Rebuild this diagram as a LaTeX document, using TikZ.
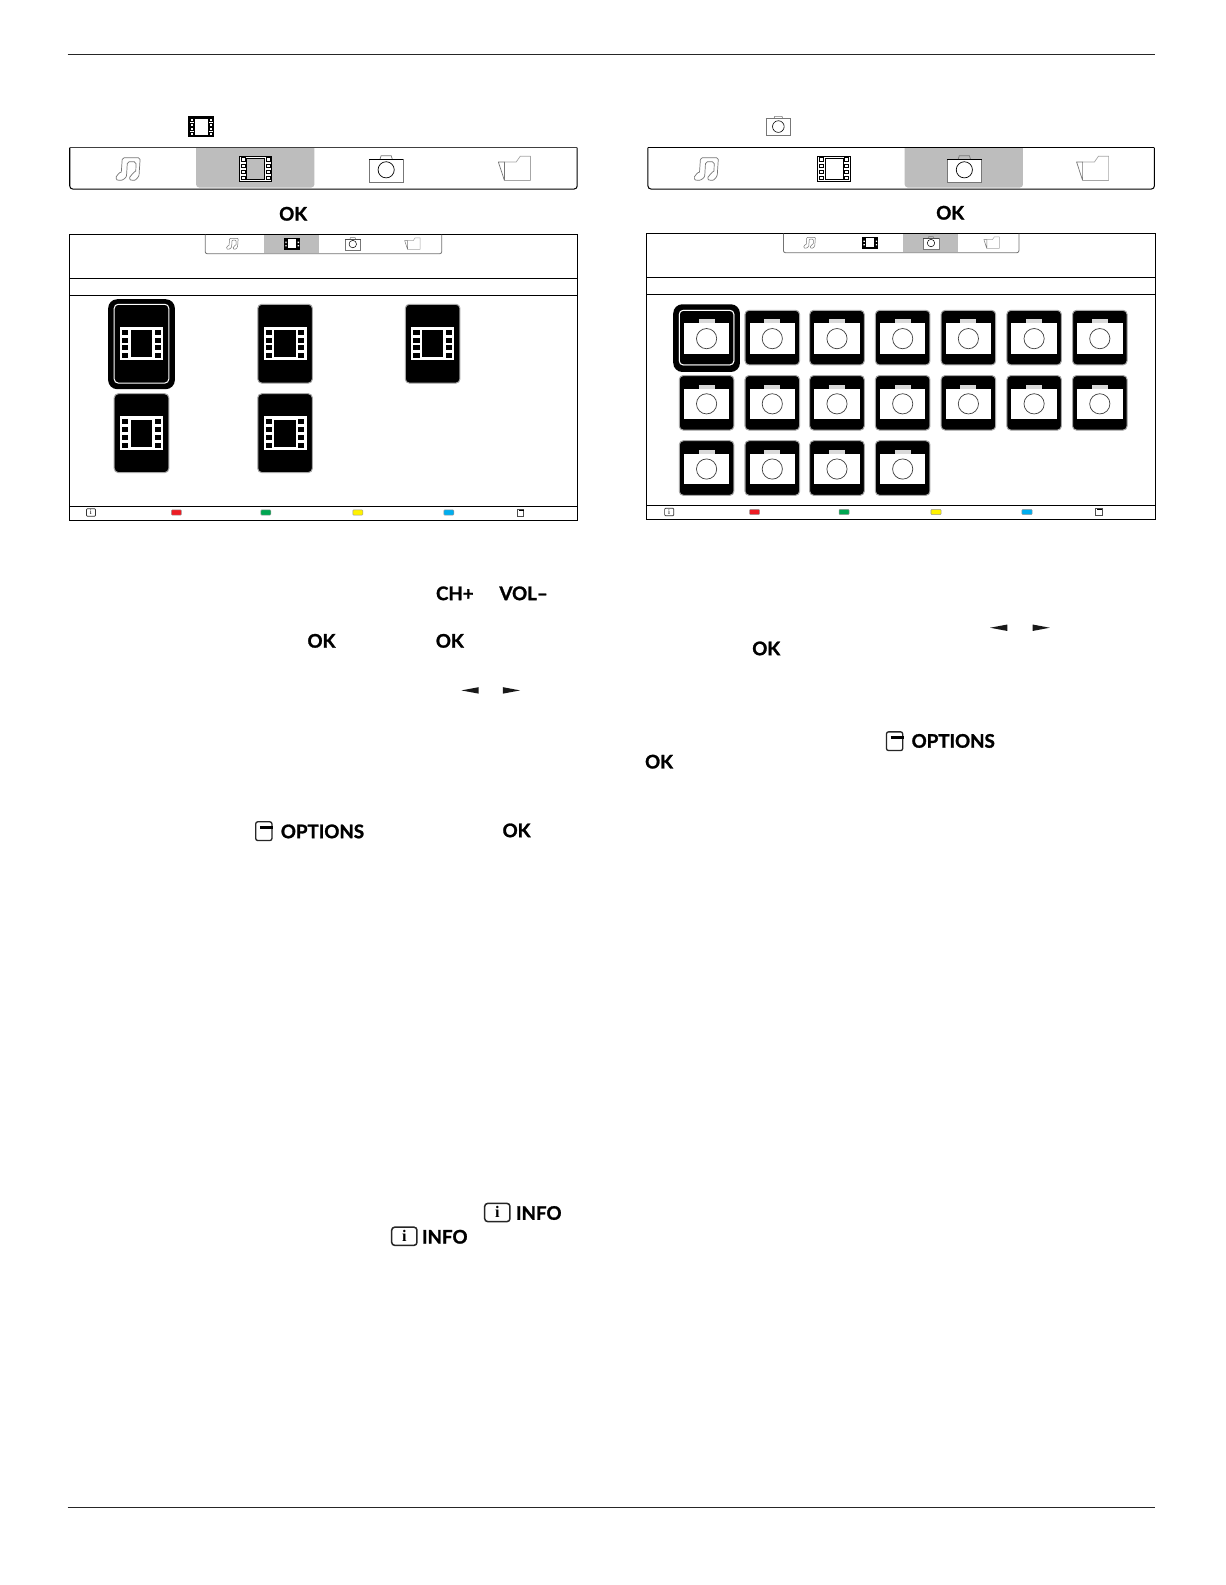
\documentclass[tikz,border=0pt]{standalone}
\usepackage{fontspec}
\setmainfont{Lato}[BoldFeatures={FakeBold=1.4}]
\newfontfamily\iserif{Liberation Serif}
\definecolor{hl}{HTML}{BDBDBD}
\definecolor{btnred}{HTML}{ED1C24}
\definecolor{btngreen}{HTML}{00A651}
\definecolor{btnyellow}{HTML}{FFF200}
\definecolor{btnblue}{HTML}{00AEEF}
\definecolor{iconline}{HTML}{777777}
\tikzset{
  key/.style={font=\fontsize{18.5}{18.5}\selectfont\bfseries,inner sep=0pt,text=black},
  rule/.style={draw=black!85,line width=.9pt},
  frameline/.style={draw=black,line width=1pt},
  film tile/.style={draw=black!35,fill=black,line width=1pt,rounded corners=4pt,minimum width=54pt,minimum height=78pt,inner sep=0pt},
  cam tile/.style={draw=black!35,fill=black,line width=1pt,rounded corners=4pt,minimum width=54pt,minimum height=54pt,inner sep=0pt},
  btn/.style={line width=.5pt,draw=black!40,rounded corners=.8pt}
}
% note icon: centre, scale, colour
\newcommand\noteicon[4][.7pt]{\begin{scope}[shift={(#2)},x=#3pt,y=-#3pt,line width=#1,draw=#4,line join=round]
 \draw[rounded corners=#3*1.8pt] (-7,3.3) -- (-6,-11) -- (11.7,-11) -- (10.7,4) .. controls (10.5,8) and (7,11.5) .. (4,11.3) .. controls (1.5,11) and (.8,9) .. (2.5,7) .. controls (4,5) and (6,3.5) .. (7.3,4) -- (7.6,-7) -- (-1,-7) -- (-1.7,5) .. controls (-2,9) and (-6,11.5) .. (-9.3,11.3) .. controls (-12,11) and (-12.5,8.5) .. (-11,6.5) .. controls (-9.5,4.5) and (-8,3) .. (-7,3.3);
\end{scope}}
% outline film icon: centre, scale, window fill, line width
\newcommand\filmicon[4]{\begin{scope}[shift={(#1)},x=#2pt,y=-#2pt]
 \draw[fill=white,line width=#4] (-16,-12.5) rectangle (16,12.5);
 \draw[fill=#3,line width=.7pt] (-9,-10.5) rectangle (9,10.5);
 \foreach \sx in {-12.5,12.5}\foreach \sy in {-9,-3,3,9}
  \draw[fill=white,line width=.7pt] (\sx-1.9,\sy-1.9) rectangle (\sx+1.9,\sy+1.9);
\end{scope}}
% outline camera icon
\newcommand\camicon[4][.7pt]{\begin{scope}[shift={(#2)},x=#3pt,y=-#3pt,line width=#1]
 \fill[white] (-17,-9.7) rectangle (17,13.5);
 \draw[draw=iconline] (-17,-9.7) -- (-17,13.5) -- (17,13.5) -- (17,-9.7);
 \draw[draw=#4] (-17,-9.7) -- (17,-9.7);
 \draw[draw=iconline] (-6,-9.7) -- (-5,-13) -- (5,-13) -- (6,-9.7);
 \draw[draw=black] (0,1) ellipse [x radius=8,y radius=8];
\end{scope}}
% folder icon
\newcommand\foldericon[3][.7pt]{\begin{scope}[shift={(#2)},x=#3pt,y=-#3pt,line width=#1,draw=iconline,line join=round]
 \draw[black!35] (-10,-6.3) -- (1.7,-6.3) -- (5.7,-12) -- (15.7,-12) -- (15.7,12) -- (-10,12);
 \draw (-10,12) -- (-16,-6.3) -- (-10,-6.3) -- (-10,12);
\end{scope}}
% small solid film icon
\newcommand\minifilm[1]{\begin{scope}[shift={(#1)}]
 \fill[black] (-8,-6) rectangle (8,6);
 \fill[white] (-4,-4.8) rectangle (4,4.8);
 \fill[white] (-6.8,-2) rectangle (-5.4,-.6) (5.4,-2) rectangle (6.8,-.6) (-6.8,1.4) rectangle (-5.4,2.8) (5.4,1.4) rectangle (6.8,2.8);
\end{scope}}
% white film glyph on tile
\newcommand\tilefilm[1]{\begin{scope}[shift={(#1)}]
 \fill[white] (-21.3,-16.5) rectangle (21.3,16.5);
 \fill[black] (-10.5,-13.5) rectangle (10.5,13.5);
 \foreach \sx in {-16,16}\foreach \sy in {-11.1,-3.5,4.2,12}
  \fill[black] (\sx-3,\sy-2.5) rectangle (\sx+3,\sy+2.5);
\end{scope}}
% white camera glyph on tile
\newcommand\tilecam[1]{\begin{scope}[shift={(#1)}]
 \fill[white] (-22.5,-14) rectangle (22.5,16);
 \fill[white!85!black] (-8,-18) rectangle (8,-14);
 \draw[black!75,line width=.7pt] (0,1) circle (10pt);
\end{scope}}
% options icon
\newcommand\optionsicon[2]{\begin{scope}[shift={(#1)},x=#2pt,y=-#2pt]
 \draw[black!85,line width=1.3pt,rounded corners=2pt] (-8,-9) rectangle (8,9.5);
 \draw[black,line width=3pt] (-4,-3.5) -- (9,-3.5);
\end{scope}}
% status bar with coloured keys: y, then six x
\newcommand\statusbar[7]{\begin{scope}[yshift=-#1pt]
 \draw[black!80,line width=.7pt,rounded corners=1pt] (#2-4.5,-3.8) rectangle (#2+4.5,3.8);
 \node[inner sep=0pt,font=\iserif\fontsize{7}{7}\selectfont] at (#2,0) {i};
 \filldraw[btn,fill=btnred] (#3-5,-2.5) rectangle (#3+5,2.5);
 \filldraw[btn,fill=btngreen] (#4-5,-2.5) rectangle (#4+5,2.5);
 \filldraw[btn,fill=btnyellow] (#5-5,-2.5) rectangle (#5+5,2.5);
 \filldraw[btn,fill=btnblue] (#6-5,-2.5) rectangle (#6+5,2.5);
 \begin{scope}[shift={(#7,0)}]
  \draw[black!70,line width=.6pt] (-3,-3.5) rectangle (3,3.5);
  \draw[black,line width=1pt] (-1.5,-2) -- (3.6,-2);
 \end{scope}
\end{scope}}
\newcommand\lefttri[1]{\fill[black!90,shift={(#1)}] (-8.5,0) -- (8.5,-3.2) -- (8.5,3.2) -- cycle;}
\newcommand\righttri[1]{\fill[black!90,shift={(#1)}] (8.5,0) -- (-8.5,-3.2) -- (-8.5,3.2) -- cycle;}
\newcommand\infoicon[1]{\begin{scope}[shift={(#1)}]
 \draw[black!85,line width=1.5pt,rounded corners=3pt] (-12.5,-9) rectangle (12.5,9);
 \node[inner sep=0pt,font=\iserif\bfseries\fontsize{16}{16}\selectfont] at (0,-.5) {i};
\end{scope}}
\begin{document}
\begin{tikzpicture}[x=1pt,y=-1pt]
\useasboundingbox[fill=white] (0,0) rectangle (1212,1568);
% page rules
\draw[rule] (67,54) -- (1143,54);
\draw[rule] (67,1491) -- (1143,1491);
% inline icons
\filmicon{199,125.5}{.76}{white}{1.6pt}
\camicon[.6pt]{770,124.5}{.72}{iconline}
% ---- left top bar
\fill[hl,rounded corners=3pt] (194,146.5) -- (194,185.5) -- (311,185.5) -- (311,146.5);
\draw[frameline,rounded corners=3pt] (69,146) -- (69,187) -- (571,187) -- (571,146);
\draw[black!75,line width=1.2pt] (69,146) -- (571,146);
\noteicon{127,167}{1}{iconline}
\filmicon{253,167}{1}{hl}{1pt}
\camicon{382,167}{1}{black}
\foldericon{509,166.5}{1}
\node[key] (okA) at (290,211.5) {OK};
% ---- left screen
\draw[frameline] (69,232) rectangle (571,515);
\draw[frameline] (69,276) -- (571,276);
\draw[frameline] (69,292) -- (571,292);
\draw[frameline] (69,501) -- (571,501);
\fill[hl] (261,232.5) rectangle (316,250.5);
\draw[black!55,line width=.8pt,rounded corners=2pt] (203,232) -- (203,251) -- (437,251) -- (437,232);
\noteicon[.5pt]{230,241}{.48}{iconline}
\minifilm{289,241}
\camicon[.5pt]{349,241}{.46}{black!70}
\foldericon[.5pt]{408,241}{.48}
% film tiles
\fill[black,rounded corners=9pt] (107,296) rectangle (173,385);
\node[film tile,draw=white] (fa) at (140,340) {};
\node[film tile] (fb) at (282,340) {};
\node[film tile] (fc) at (428,340) {};
\node[film tile] (fd) at (140,428.5) {};
\node[film tile] (fe) at (282,428.5) {};
\foreach \px/\py in {140/340,282/340,428/340,140/428.5,282/428.5}{\tilefilm{\px,\py}}
\statusbar{507}{90}{174.5}{263}{354}{444}{515}
% ---- right top bar
\fill[hl,rounded corners=3pt] (895,146.5) -- (895,185.5) -- (1012,185.5) -- (1012,146.5);
\draw[frameline,rounded corners=3pt] (641,146) -- (641,187) -- (1142,187) -- (1142,146);
\draw[frameline] (641,146) -- (1142,146);
\noteicon{699,167}{1}{iconline}
\filmicon{825,167}{1}{white}{1pt}
\camicon{954,167}{1}{black}
\foldericon{1081,166.5}{1}
\node[key] (okB) at (940,210.5) {OK};
% ---- right screen
\draw[frameline] (640,231) rectangle (1143,514);
\draw[frameline] (640,275) -- (1143,275);
\draw[frameline] (640,291) -- (1143,291);
\draw[frameline] (640,500) -- (1143,500);
\fill[hl] (893,231.5) rectangle (948,249.5);
\draw[black!55,line width=.8pt,rounded corners=2pt] (775,231) -- (775,250) -- (1008,250) -- (1008,231);
\noteicon[.5pt]{801,240}{.48}{iconline}
\minifilm{861,240}
\camicon[.5pt]{921,240}{.46}{black!70}
\foldericon[.5pt]{981,240}{.48}
% camera tiles
\fill[black,rounded corners=9pt] (666,301) rectangle (732,368);
\foreach \c/\x in {a/699,b/764,c/828,d/893,e/958,f/1023,g/1088}{
  \node[cam tile] (c1\c) at (\x,334) {};
  \node[cam tile] (c2\c) at (\x,398.5) {};
}
\foreach \c/\x in {a/699,b/764,c/828,d/893}{
  \node[cam tile] (c3\c) at (\x,463) {};
}
\node[cam tile,draw=white] (c1a) at (699,334) {};
\foreach \x in {699,764,828,893,958,1023,1088}{\tilecam{\x,334}\tilecam{\x,398.5}}
\foreach \x in {699,764,828,893}{\tilecam{\x,463}}
\statusbar{506.5}{662}{746.5}{835}{926}{1016}{1087}
% ---- left text keys
\node[key] (ch) at (450,587) {CH+};
\node[key] (vol) at (518,587) {VOL–};
\node[key] (okC) at (318,634) {OK};
\node[key] (okD) at (445,634) {OK};
\lefttri{465,683}
\righttri{506,683}
\optionsicon{261,822}{1}
\node[key] (optA) at (319,822.5) {OPTIONS};
\node[key] (okE) at (511,821.5) {OK};
\infoicon{492,1199.5}
\node[key] (infoA) at (533,1200) {INFO};
\infoicon{400,1223}
\node[key] (infoB) at (440,1223.5) {INFO};
% ---- right text keys
\lefttri{988,621}
\righttri{1030,621}
\node[key] (okF) at (758,641.5) {OK};
\optionsicon{885,733}{1}
\node[key] (optB) at (943,733) {OPTIONS};
\node[key] (okG) at (652,753.5) {OK};
\end{tikzpicture}
\end{document}
